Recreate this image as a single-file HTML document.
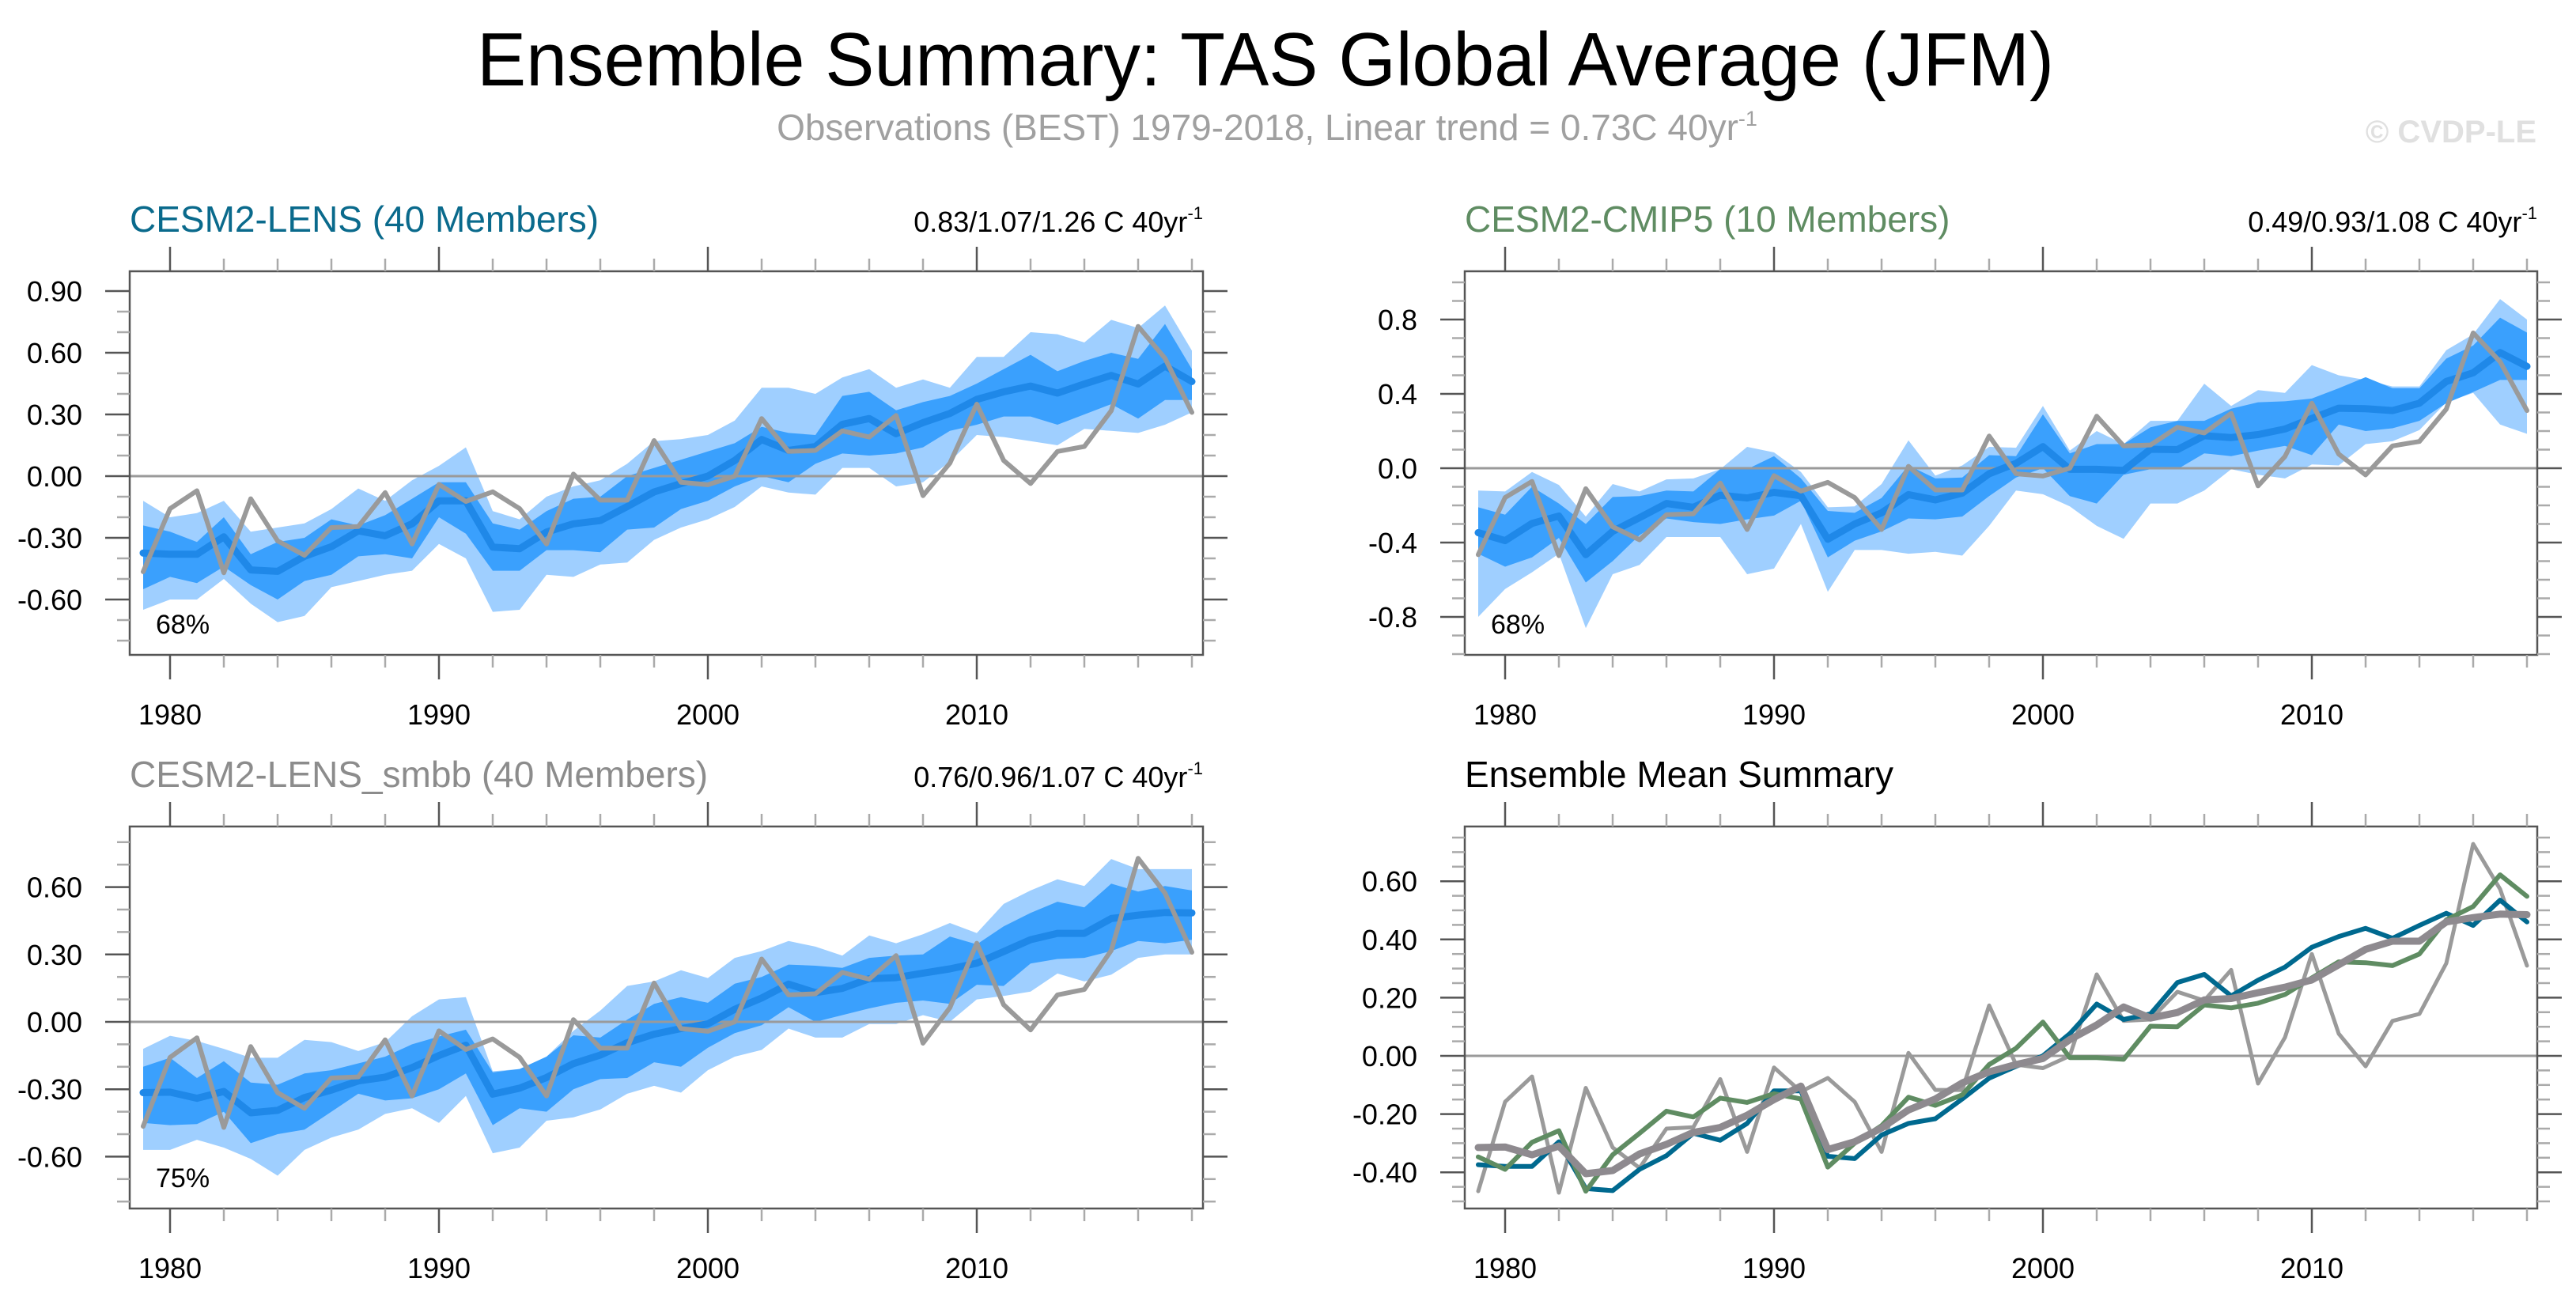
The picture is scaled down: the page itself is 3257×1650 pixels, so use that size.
<!DOCTYPE html>
<html><head><meta charset="utf-8"><title>Ensemble Summary: TAS Global Average (JFM)</title>
<style>
html,body{margin:0;padding:0;background:#fff;}
svg{display:block;font-family:"Liberation Sans",sans-serif;}
</style></head>
<body>
<svg id="fig" width="3257" height="1650" viewBox="0 0 3257 1650" xmlns="http://www.w3.org/2000/svg">
  <text x="1600" y="108" font-size="96" text-anchor="middle" textLength="1994" lengthAdjust="spacingAndGlyphs" fill="#000">Ensemble Summary: TAS Global Average (JFM)</text>
  <text x="1602" y="177" font-size="46" text-anchor="middle" fill="#a0a0a0">Observations (BEST) 1979-2018, Linear trend = 0.73C 40yr<tspan font-size="27" dy="-18">-1</tspan></text>
  <text x="3207" y="180" font-size="40" font-weight="bold" text-anchor="end" fill="#e0e0e0">© CVDP-LE</text>
  <g id="panels"></g>
</svg>
<script>
// ---- data ----
const years = [1979,1980,1981,1982,1983,1984,1985,1986,1987,1988,1989,1990,1991,1992,1993,1994,1995,1996,1997,1998,1999,2000,2001,2002,2003,2004,2005,2006,2007,2008,2009,2010,2011,2012,2013,2014,2015,2016,2017,2018];
const obs = [-0.465,-0.158,-0.071,-0.47,-0.11,-0.315,-0.385,-0.25,-0.245,-0.08,-0.33,-0.04,-0.123,-0.076,-0.158,-0.33,0.01,-0.117,-0.117,0.173,-0.03,-0.042,0.0,0.28,0.12,0.125,0.22,0.19,0.295,-0.095,0.063,0.35,0.076,-0.036,0.12,0.144,0.318,0.728,0.573,0.31];
const lensMean = [-0.374,-0.38,-0.38,-0.295,-0.456,-0.463,-0.39,-0.343,-0.266,-0.29,-0.232,-0.12,-0.12,-0.345,-0.353,-0.272,-0.232,-0.216,-0.148,-0.077,-0.036,0.0,0.076,0.178,0.125,0.144,0.252,0.28,0.206,0.26,0.305,0.373,0.41,0.438,0.404,0.448,0.49,0.448,0.535,0.46];
const lensDarkHi = [-0.24,-0.27,-0.32,-0.20,-0.38,-0.32,-0.30,-0.21,-0.24,-0.19,-0.11,-0.03,-0.03,-0.23,-0.26,-0.17,-0.11,-0.10,0.00,0.04,0.08,0.12,0.16,0.24,0.21,0.20,0.39,0.41,0.32,0.36,0.39,0.45,0.52,0.59,0.51,0.56,0.60,0.57,0.74,0.52];
const lensDarkLo = [-0.55,-0.49,-0.52,-0.44,-0.53,-0.60,-0.51,-0.48,-0.39,-0.38,-0.40,-0.20,-0.28,-0.46,-0.46,-0.36,-0.36,-0.37,-0.26,-0.25,-0.16,-0.12,-0.05,0.00,-0.03,0.06,0.11,0.10,0.11,0.14,0.22,0.25,0.29,0.29,0.25,0.30,0.35,0.28,0.37,0.37];
const lensLightHi = [-0.12,-0.20,-0.18,-0.12,-0.27,-0.25,-0.23,-0.16,-0.06,-0.12,-0.02,0.05,0.14,-0.17,-0.21,-0.10,-0.05,-0.02,0.06,0.17,0.18,0.20,0.27,0.43,0.43,0.40,0.48,0.52,0.43,0.47,0.43,0.58,0.58,0.70,0.69,0.65,0.76,0.72,0.83,0.61];
const lensLightLo = [-0.65,-0.60,-0.60,-0.50,-0.62,-0.71,-0.68,-0.54,-0.51,-0.48,-0.46,-0.33,-0.40,-0.66,-0.65,-0.48,-0.49,-0.43,-0.42,-0.31,-0.25,-0.21,-0.15,-0.05,-0.08,-0.09,0.04,0.04,-0.05,-0.03,0.07,0.20,0.19,0.17,0.15,0.23,0.22,0.21,0.25,0.31];
const cmipMean = [-0.347,-0.39,-0.297,-0.257,-0.465,-0.34,-0.266,-0.19,-0.21,-0.145,-0.16,-0.13,-0.148,-0.382,-0.3,-0.24,-0.142,-0.17,-0.134,-0.03,0.026,0.116,-0.006,-0.006,-0.012,0.102,0.1,0.175,0.165,0.181,0.211,0.268,0.323,0.32,0.31,0.35,0.467,0.513,0.622,0.548];
const cmipDarkHi = [-0.21,-0.25,-0.10,-0.19,-0.30,-0.155,-0.15,-0.12,-0.125,-0.005,-0.005,0.065,-0.055,-0.23,-0.24,-0.16,0.015,-0.055,-0.05,0.07,0.065,0.29,0.08,0.13,0.13,0.22,0.255,0.255,0.32,0.355,0.36,0.375,0.43,0.49,0.43,0.43,0.59,0.66,0.81,0.73];
const cmipDarkLo = [-0.46,-0.53,-0.48,-0.375,-0.615,-0.50,-0.36,-0.27,-0.29,-0.30,-0.275,-0.255,-0.175,-0.48,-0.39,-0.34,-0.27,-0.275,-0.26,-0.15,-0.05,0.0,-0.15,-0.19,-0.035,-0.005,-0.005,0.08,0.065,0.095,0.12,0.07,0.235,0.20,0.215,0.255,0.35,0.41,0.475,0.475];
const cmipLightHi = [-0.12,-0.125,-0.02,-0.09,-0.26,-0.085,-0.125,-0.06,-0.055,-0.005,0.115,0.085,-0.02,-0.21,-0.205,-0.085,0.15,-0.04,0.015,0.115,0.11,0.335,0.095,0.20,0.13,0.255,0.255,0.455,0.335,0.42,0.405,0.555,0.50,0.475,0.44,0.44,0.635,0.72,0.91,0.80];
const cmipLightLo = [-0.80,-0.65,-0.56,-0.46,-0.86,-0.57,-0.52,-0.37,-0.37,-0.37,-0.57,-0.54,-0.30,-0.665,-0.44,-0.44,-0.46,-0.45,-0.47,-0.31,-0.12,-0.14,-0.205,-0.31,-0.38,-0.19,-0.19,-0.12,-0.005,-0.035,-0.055,0.02,0.015,0.13,0.145,0.205,0.355,0.405,0.235,0.185];
const smbbMean = [-0.315,-0.313,-0.34,-0.31,-0.405,-0.394,-0.337,-0.304,-0.263,-0.246,-0.204,-0.15,-0.104,-0.322,-0.295,-0.248,-0.186,-0.148,-0.093,-0.055,-0.03,-0.009,0.056,0.106,0.168,0.13,0.149,0.192,0.197,0.217,0.236,0.261,0.313,0.366,0.394,0.394,0.46,0.475,0.487,0.485];
const smbbDarkHi = [-0.20,-0.16,-0.25,-0.175,-0.27,-0.28,-0.23,-0.215,-0.185,-0.155,-0.10,-0.065,-0.035,-0.225,-0.21,-0.155,-0.06,-0.07,0.01,0.08,0.11,0.085,0.17,0.20,0.255,0.25,0.24,0.285,0.295,0.30,0.38,0.345,0.425,0.485,0.535,0.51,0.615,0.58,0.605,0.585];
const smbbDarkLo = [-0.45,-0.46,-0.455,-0.40,-0.54,-0.50,-0.48,-0.40,-0.32,-0.35,-0.34,-0.30,-0.23,-0.46,-0.385,-0.40,-0.30,-0.255,-0.25,-0.18,-0.20,-0.115,-0.05,-0.015,0.065,0.0,0.03,0.06,0.085,0.095,0.08,0.165,0.16,0.26,0.28,0.285,0.315,0.36,0.35,0.365];
const smbbLightHi = [-0.12,-0.062,-0.085,-0.12,-0.16,-0.16,-0.08,-0.09,-0.13,-0.09,0.025,0.10,0.11,-0.22,-0.21,-0.155,-0.04,0.05,0.16,0.18,0.23,0.195,0.285,0.315,0.36,0.335,0.295,0.385,0.35,0.39,0.44,0.395,0.525,0.585,0.635,0.605,0.725,0.68,0.68,0.68];
const smbbLightLo = [-0.57,-0.57,-0.525,-0.56,-0.61,-0.685,-0.57,-0.515,-0.48,-0.41,-0.385,-0.45,-0.33,-0.585,-0.56,-0.44,-0.425,-0.39,-0.32,-0.285,-0.315,-0.215,-0.155,-0.125,-0.03,-0.07,-0.07,-0.01,-0.01,0.03,0.0,0.10,0.115,0.135,0.215,0.18,0.21,0.285,0.30,0.30];
const xTickLabels = ["1980","1990","2000","2010"];
const yTicks1 = ["-0.60","-0.30","0.00","0.30","0.60","0.90"];
const yTicks2 = ["-0.8","-0.4","0.0","0.4","0.8"];
const yTicks3 = ["-0.60","-0.30","0.00","0.30","0.60"];
const yTicks4 = ["-0.40","-0.20","0.00","0.20","0.40","0.60"];

// ---- drawing ----
const NS = "http://www.w3.org/2000/svg";
const root = document.getElementById("panels");
function mk(tag, attrs, parent) {
  const e = document.createElementNS(NS, tag);
  for (const k in attrs) e.setAttribute(k, attrs[k]);
  parent.appendChild(e);
  return e;
}
function panel(cfg) {
  const g = mk("g", {}, root);
  
  
  const X = yr => cfg.x0 + (yr - 1978.5) * 34;
  const Y = v => cfg.zero - v * cfg.ppu;
  const vmax = (cfg.zero - cfg.y0) / cfg.ppu, vmin = (cfg.zero - cfg.y1) / cfg.ppu;
  const line = (arr, color, w, nm) => {
    const p = mk("polyline", {points: years.map((y, i) => X(y).toFixed(1) + "," + Y(arr[i]).toFixed(1)).join(" "), fill: "none", stroke: color, "stroke-width": w, "stroke-linejoin": "round", "stroke-linecap": "round"}, g);
    
    
  };
  const band = (hi, lo, color, nm) => {
    const pts = years.map((y, i) => X(y).toFixed(1) + "," + Y(hi[i]).toFixed(1)).concat(years.map((y, i) => X(y).toFixed(1) + "," + Y(lo[i]).toFixed(1)).reverse());
    const p = mk("polygon", {points: pts.join(" "), fill: color}, g);
    
    
  };
  const t = mk("text", {x: cfg.x0, y: cfg.y0 - 50, "font-size": 46, fill: cfg.titleColor}, g);
  t.textContent = cfg.title;
  
  
  if (cfg.stat) {
    const s = mk("text", {x: cfg.x1, y: cfg.y0 - 50, "font-size": 36, fill: "#000", "text-anchor": "end"}, g);
    s.textContent = cfg.stat;
    const sup = mk("tspan", {"font-size": 22, dy: -16}, s);
    sup.textContent = "-1";
    
    
  }
  if (cfg.bands) {
    band(cfg.bands[0], cfg.bands[1], "#9fcfff", "band-outer");
    band(cfg.bands[2], cfg.bands[3], "#3aa0fd", "band-inner");
  }
  const z = mk("line", {x1: cfg.x0, x2: cfg.x1, y1: Y(0), y2: Y(0), stroke: "#9a9a9a", "stroke-width": 3}, g);
  
  
  if (cfg.bands) {
    line(cfg.mean, "#1f88e8", 9, "ensemble-mean-line");
    line(obs, "#9a9a9a", 6, "observations-line");
    const pc = mk("text", {x: cfg.x0 + 33, y: cfg.y1 - 27, "font-size": 34, fill: "#000"}, g);
    pc.textContent = cfg.pct;
    
    
  } else {
    line(obs, "#9a9a9a", 5, "observations-line");
    line(lensMean, "#00698f", 6, "cesm2-lens-mean-line");
    line(cmipMean, "#5f8c62", 6, "cesm2-cmip5-mean-line");
    line(smbbMean, "#8e8a8f", 9, "cesm2-lens-smbb-mean-line");
  }
  const b = mk("rect", {x: cfg.x0, y: cfg.y0, width: cfg.x1 - cfg.x0, height: cfg.y1 - cfg.y0, fill: "none", stroke: "#555", "stroke-width": 2.5}, g);
  
  
  for (let yr = 1980; yr <= 2018; yr += 2) {
    const maj = yr % 10 === 0, L = maj ? 31 : 16, c = maj ? "#555" : "#aaa";
    mk("line", {x1: X(yr), x2: X(yr), y1: cfg.y1, y2: cfg.y1 + L, stroke: c, "stroke-width": 2.5}, g);
    mk("line", {x1: X(yr), x2: X(yr), y1: cfg.y0, y2: cfg.y0 - L, stroke: c, "stroke-width": 2.5}, g);
  }
  xTickLabels.forEach(lb => {
    const tx = mk("text", {x: X(+lb), y: cfg.y1 + 88, "font-size": 36, "text-anchor": "middle", fill: "#000"}, g);
    tx.textContent = lb;
    
    
  });
  const n0 = Math.ceil(vmin / cfg.minor - 1e-6), n1 = Math.floor(vmax / cfg.minor + 1e-6);
  for (let n = n0; n <= n1; n++) {
    const v = n * cfg.minor, maj = Math.abs(v / cfg.major - Math.round(v / cfg.major)) < 1e-6;
    const L = maj ? 31 : 16, c = maj ? "#555" : "#aaa";
    mk("line", {x1: cfg.x0, x2: cfg.x0 - L, y1: Y(v), y2: Y(v), stroke: c, "stroke-width": 2.5}, g);
    mk("line", {x1: cfg.x1, x2: cfg.x1 + L, y1: Y(v), y2: Y(v), stroke: c, "stroke-width": 2.5}, g);
  }
  cfg.yLabels.forEach(lb => {
    const ty = mk("text", {x: cfg.x0 - 60, y: Y(+lb) + 13, "font-size": 36, "text-anchor": "end", fill: "#000"}, g);
    ty.textContent = lb;
    
    
  });
}
panel({name: "cesm2-lens-panel", x0: 164, x1: 1521, y0: 343, y1: 828, zero: 602, ppu: 260, major: 0.3, minor: 0.1, yLabels: yTicks1,
  title: "CESM2-LENS (40 Members)", titleColor: "#0a6a8c", stat: "0.83/1.07/1.26 C 40yr", pct: "68%",
  mean: lensMean, bands: [lensLightHi, lensLightLo, lensDarkHi, lensDarkLo]});
panel({name: "cesm2-cmip5-panel", x0: 1852, x1: 3208, y0: 343, y1: 828, zero: 592, ppu: 235, major: 0.4, minor: 0.1, yLabels: yTicks2,
  title: "CESM2-CMIP5 (10 Members)", titleColor: "#5f8c62", stat: "0.49/0.93/1.08 C 40yr", pct: "68%",
  mean: cmipMean, bands: [cmipLightHi, cmipLightLo, cmipDarkHi, cmipDarkLo]});
panel({name: "cesm2-lens-smbb-panel", x0: 164, x1: 1521, y0: 1045, y1: 1528, zero: 1292, ppu: 284, major: 0.3, minor: 0.1, yLabels: yTicks3,
  title: "CESM2-LENS_smbb (40 Members)", titleColor: "#8c8c8c", stat: "0.76/0.96/1.07 C 40yr", pct: "75%",
  mean: smbbMean, bands: [smbbLightHi, smbbLightLo, smbbDarkHi, smbbDarkLo]});
panel({name: "ensemble-mean-summary-panel", x0: 1852, x1: 3208, y0: 1045, y1: 1528, zero: 1335, ppu: 368, major: 0.2, minor: 0.05, yLabels: yTicks4,
  title: "Ensemble Mean Summary", titleColor: "#000", stat: null});
</script>
</body></html>
